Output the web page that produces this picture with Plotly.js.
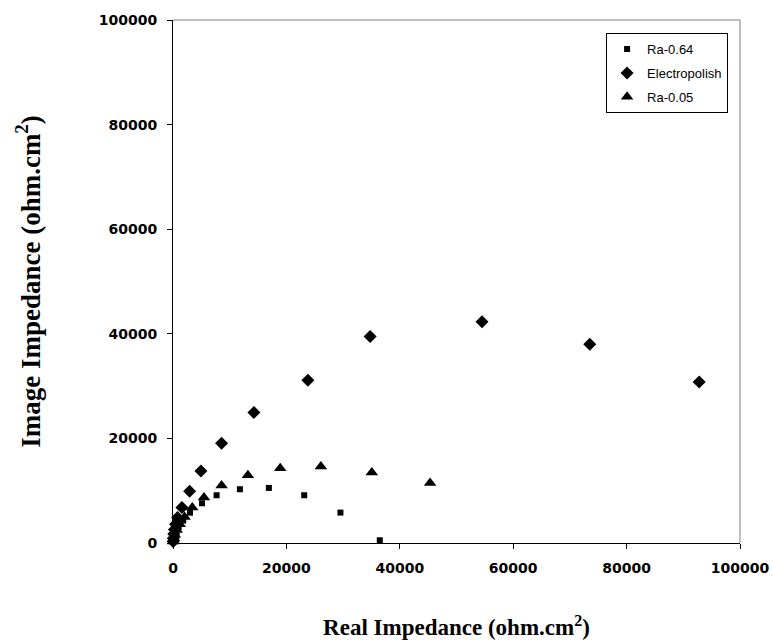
<!DOCTYPE html>
<html>
<head>
<meta charset="utf-8">
<script src="https://cdn.plot.ly/plotly-3.0.1.min.js"></script>
<style>body{margin:0;padding:0;background:#fff;}#chart{width:773px;height:644px;}</style>
</head>
<body>
<div id="chart"></div>
<script>
// Ra-0.64 (squares)
var ra064X = [36470, 29530, 23140, 16910, 11800, 7690, 5110, 3000, 1800, 1000, 500, 250, 100, 40];
var ra064Y = [520, 5810, 9130, 10530, 10280, 9130, 7600, 5800, 4300, 3000, 1900, 1100, 500, 200];
// Electropolish (diamonds)
var elecX = [92800, 73500, 54500, 34770, 23790, 14270, 8570, 4930, 2930, 1580, 810, 450, 250, 130, 60, 20];
var elecY = [30800, 38000, 42300, 39500, 31140, 24960, 19080, 13780, 9900, 6770, 4860, 3600, 2600, 1700, 900, 300];
// Ra-0.05 (triangles)
var ra005X = [45340, 35060, 26080, 18910, 13210, 8570, 5460, 3400, 2050, 1200, 650, 330, 150, 50];
var ra005Y = [11480, 13470, 14620, 14300, 12960, 10980, 8690, 6770, 4980, 3600, 2500, 1600, 900, 300];

var xTicks = [0, 20000, 40000, 60000, 80000, 100000];
var yTicks = [0, 20000, 40000, 60000, 80000, 100000];

var traces = [
  {x: ra064X, y: ra064Y, name: 'Ra-0.64', type: 'scatter', mode: 'markers', legendgroup: 'a',
   marker: {symbol: 'square', size: 6, color: '#000'}, cliponaxis: false},
  {x: elecX, y: elecY, name: 'Electropolish', type: 'scatter', mode: 'markers', legendgroup: 'b',
   marker: {symbol: 'diamond', size: 10, color: '#000'}, cliponaxis: false},
  {x: ra005X, y: ra005Y, name: 'Ra-0.05', type: 'scatter', mode: 'markers', legendgroup: 'c',
   marker: {symbol: 'triangle-up', size: 11, color: '#000'}, cliponaxis: false}
];

var tickFont = {family: 'DejaVu Sans, Arial, sans-serif', size: 14, color: '#000', weight: 'bold'};
var xTitleFont = {family: 'Liberation Serif, Times New Roman, serif', size: 23, color: '#000', weight: 'bold'};
var yTitleFont = {family: 'Liberation Serif, Times New Roman, serif', size: 27, color: '#000', weight: 'bold'};

var layout = {
  width: 773, height: 644,
  margin: {l: 173, r: 33, t: 20, b: 101},
  paper_bgcolor: '#fff', plot_bgcolor: '#fff',
  showlegend: true,
  xaxis: {
    range: [0, 100000], tickvals: xTicks, ticktext: xTicks.map(String),
    showgrid: false, zeroline: false, showline: true, linecolor: '#000', linewidth: 1,
    ticks: 'outside', ticklen: 5, tickcolor: '#000', tickfont: tickFont, ticklabelstandoff: 7,
    title: {text: 'Real Impedance (ohm.cm<sup>2</sup>)', font: xTitleFont, standoff: 44}
  },
  yaxis: {
    range: [0, 100000], tickvals: yTicks, ticktext: yTicks.map(String),
    showgrid: false, zeroline: false, showline: true, linecolor: '#000', linewidth: 1,
    ticks: 'outside', ticklen: 5, tickcolor: '#000', tickfont: tickFont, ticklabelstandoff: 7,
    title: {text: 'Image Impedance (ohm.cm<sup>2</sup>)', font: yTitleFont, standoff: 50}
  },
  legend: {
    x: 0.979, y: 0.975, xanchor: 'right', yanchor: 'top',
    bgcolor: '#fff', bordercolor: '#000', borderwidth: 1,
    font: {family: 'Liberation Sans, Arial, sans-serif', size: 13, color: '#000'},
    traceorder: 'grouped', tracegroupgap: 4, itemwidth: 30
  },
  shapes: [
    {type: 'line', xref: 'paper', yref: 'paper', x0: 0, x1: 1, y0: 1, y1: 1, line: {color: '#808080', width: 1}},
    {type: 'line', xref: 'paper', yref: 'paper', x0: 1, x1: 1, y0: 0, y1: 1, line: {color: '#808080', width: 1}}
  ]
};

Plotly.newPlot('chart', traces, layout, {displayModeBar: false, staticPlot: true});
</script>
</body>
</html>
